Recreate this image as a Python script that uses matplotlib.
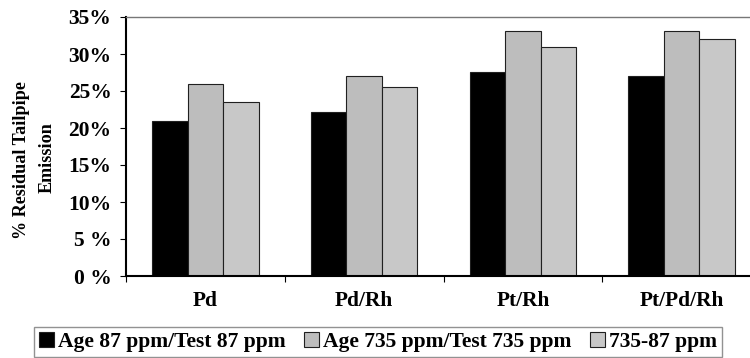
import numpy as np
import matplotlib
matplotlib.use('Agg')
import matplotlib.pyplot as plt
from matplotlib.ticker import FixedLocator

# Datos
catalysts = ['Pd', 'Pd/Rh', 'Pt/Rh', 'Pt/Pd/Rh']
age87_test87 = [21.0, 22.1, 27.6, 27.0]
age735_test735 = [26.0, 27.0, 33.1, 33.1]
diff_735_87 = [23.5, 25.5, 31.0, 32.0]
series_labels = ['Age 87 ppm/Test 87 ppm', 'Age 735 ppm/Test 735 ppm', '735-87 ppm']
y_ticks = [0, 5, 10, 15, 20, 25, 30, 35]
y_tick_labels = ['0 %', '5 %', '10%', '15%', '20%', '25%', '30%', '35%']

plt.rcParams['font.family'] = 'Liberation Serif'
plt.rcParams['font.weight'] = 'bold'

fig = plt.figure(figsize=(7.5, 3.58), dpi=100)
ax = fig.add_axes([126 / 750, 82 / 358, 635 / 750, 259 / 358])

x = np.arange(len(catalysts))
w = 0.224
colors = ['#000000', '#bdbdbd', '#c8c8c8']
series = [age87_test87, age735_test735, diff_735_87]
for i, (vals, col, lab) in enumerate(zip(series, colors, series_labels)):
    ax.bar(x + (i - 1) * w, vals, w, color=col, edgecolor='#202020', linewidth=0.8, label=lab)

ax.set_xlim(-0.5, 3.5)
ax.set_ylim(0, 35)
ax.set_yticks(y_ticks)
ax.set_yticklabels(y_tick_labels, fontsize=15.5, fontweight='bold')
ax.set_xticks(x)
ax.set_xticklabels(catalysts, fontsize=15.4, fontweight='bold')
ax.xaxis.set_minor_locator(FixedLocator([-0.5, 0.5, 1.5, 2.5, 3.5]))
ax.tick_params(axis='x', which='major', length=0, pad=11)
ax.tick_params(axis='x', which='minor', length=4, width=0.8, direction='out')
ax.tick_params(axis='y', length=4, width=0.8, direction='out', pad=6.5)

ax.spines['left'].set_linewidth(1.5)
ax.spines['bottom'].set_linewidth(1.5)
ax.spines['top'].set_color('#777777')
ax.spines['top'].set_linewidth(1.0)
ax.spines['right'].set_visible(False)

fig.text(22 / 750, 1 - 160 / 358, '% Residual Tailpipe', rotation=90,
         ha='center', va='center', fontsize=13.1, fontweight='bold')
fig.text(47 / 750, 1 - 158 / 358, 'Emission', rotation=90,
         ha='center', va='center', fontsize=13.1, fontweight='bold')

leg = fig.legend(loc='upper center', bbox_to_anchor=(378 / 750, 1 - 327 / 358), ncol=3,
                 fontsize=15.5, frameon=True, fancybox=False, edgecolor='#777777',
                 handlelength=0.7, handleheight=0.7, handletextpad=0.19,
                 columnspacing=0.84, borderpad=0.23, borderaxespad=0)
leg.get_frame().set_linewidth(1.0)
for t in leg.get_texts():
    t.set_fontweight('bold')

fig.savefig('out.png', dpi=100)
